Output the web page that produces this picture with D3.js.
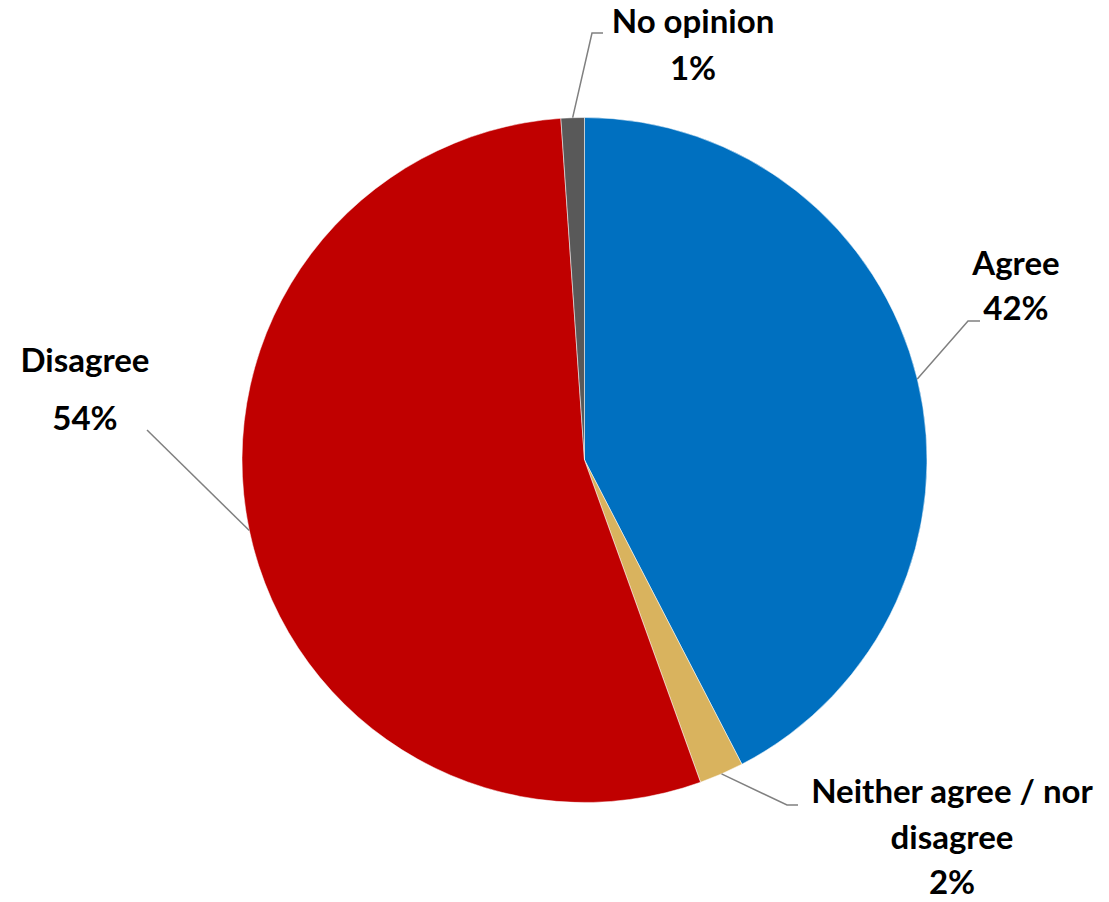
<!DOCTYPE html>
<html><head><meta charset="utf-8">
<script src="https://cdn.jsdelivr.net/npm/d3@7"></script>
<style>
html,body{margin:0;padding:0;background:#fff;}
svg{display:block;}
text{font-family:Lato,"Open Sans",sans-serif;font-weight:700;fill:#000;}
</style></head>
<body>
<svg id="c" width="1109" height="902"></svg>
<script>
const categories = ["Agree", "Neither agree / nor disagree", "Disagree", "No opinion"];
const values = [42.4, 2.1, 54.4, 1.1];
const valueLabels = ["42%", "2%", "54%", "1%"];
const labelLines = [["Agree"], ["Neither agree / nor", "disagree"], ["Disagree"], ["No opinion"]];
const colors = ["#0070C0", "#D9B35E", "#C00000", "#595959"];

// layout for labels (Excel-style manual placement)
const labelLayout = [
  {cx: 1016, y0: 275, gap: 45, elbow: [968, 321], end: [980, 321]},
  {cx: 952, y0: 803, gap: 45.5, elbow: [787, 805], end: [798, 805]},
  {cx: 85, y0: 372, gap: 58, elbow: null, end: [147, 430]},
  {cx: 693, y0: 33, gap: 47, elbow: [592, 33], end: [603, 33]}
];

const W = 1109, H = 902;
const cx = 584.5, cy = 460, R = 342.5;
const svg = d3.select("#c");

const data = categories.map((c, i) => ({name: c, value: values[i], i}));
const pie = d3.pie().sort(null).value(d => d.value);
const arcs = pie(data);
const arc = d3.arc().innerRadius(0).outerRadius(R);

const g = svg.append("g").attr("transform", `translate(${cx},${cy})`);
g.selectAll("path").data(arcs).join("path")
  .attr("d", arc)
  .attr("fill", d => colors[d.data.i])
  .attr("stroke", "#fff").attr("stroke-width", 0.5);

// leader lines
const lg = svg.append("g");
arcs.forEach(a => {
  const m = (a.startAngle + a.endAngle) / 2;
  const p0 = [cx + R * Math.sin(m), cy - R * Math.cos(m)];
  const L = labelLayout[a.data.i];
  const pts = [p0];
  if (L.elbow) pts.push(L.elbow);
  pts.push(L.end);
  lg.append("path")
    .attr("d", d3.line()(pts))
    .attr("fill", "none").attr("stroke", "#808080").attr("stroke-width", 1.5);
});

// labels
const tg = svg.append("g");
// font size fitted so the longest label line matches reference width
const probe = tg.append("text").attr("font-size", 100).text("Neither agree / nor");
const w100 = probe.node().getComputedTextLength();
probe.remove();
const fs = Math.min(33, 100 * 293 / w100);

arcs.forEach(a => {
  const i = a.data.i;
  const L = labelLayout[i];
  const lines = labelLines[i].concat([valueLabels[i]]);
  lines.forEach((t, k) => {
    tg.append("text")
      .attr("x", L.cx).attr("y", L.y0 + k * L.gap)
      .attr("text-anchor", "middle")
      .attr("font-size", fs)
      .text(t);
  });
});
</script>
</body></html>
